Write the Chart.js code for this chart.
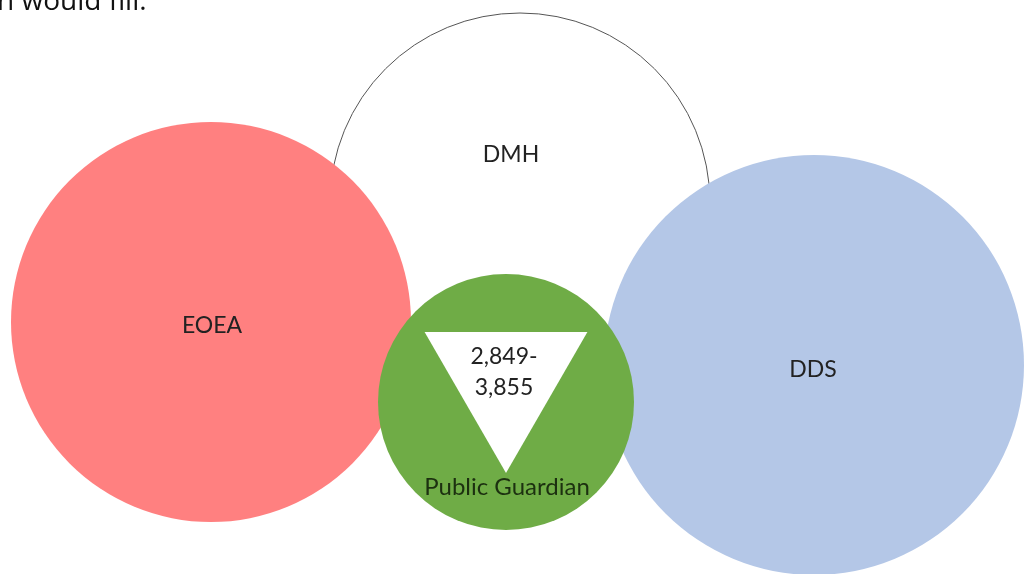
<!DOCTYPE html>
<html>
<head>
<meta charset="utf-8">
<script src="https://cdn.jsdelivr.net/npm/chart.js@4/dist/chart.umd.min.js"></script>
<style>
  html, body { margin: 0; padding: 0; background: #fff; }
  #wrap { width: 1026px; height: 574px; overflow: hidden; }
</style>
</head>
<body>
<div id="wrap"><canvas id="myChart" width="1026" height="574"></canvas></div>
<script>
const ctx = document.getElementById("myChart");

// circles, back to front
const groups = ["DMH", "EOEA", "DDS", "Public Guardian"];
const groupX = [520, 211, 814, 506];
const groupY = [203, 322, 365, 402];
const groupR = [190, 200, 210, 128];
const groupColors = ["#ffffff", "#ff8080", "#b4c7e7", "#6fac46"];

// where the names sit
const labelX = [511, 212, 813, 507];
const labelY = [155, 326, 370, 487];

// the range shown in the triangle
const rangeText = ["2,849-", "3,855"];
const rangeX = 504;
const rangeY = [357, 388];
const triangle = { x: 506, y: 379, r: 94 };

const headText = "n would fill.";

const labelPlugin = {
  id: "vennLabels",
  afterDatasetsDraw(chart) {
    const c = chart.ctx;
    const xs = chart.scales.x;
    const ys = chart.scales.y;
    c.save();
    c.textAlign = "center";
    c.textBaseline = "middle";
    groups.forEach((name, i) => {
      c.font = i == 3 ? "24px Lato" : "23px Lato";
      c.fillStyle = i == 3 ? "#1c3010" : "#222";
      c.fillText(name, xs.getPixelForValue(labelX[i]), ys.getPixelForValue(labelY[i]));
    });
    c.font = "23px Lato";
    c.fillStyle = "#222";
    rangeText.forEach((t, i) => {
      c.fillText(t, xs.getPixelForValue(rangeX), ys.getPixelForValue(rangeY[i]));
    });
    c.textAlign = "left";
    c.textBaseline = "alphabetic";
    c.font = "28px 'Open Sans'";
    c.fillStyle = "#111";
    c.fillText(headText, -3, 10);
    c.restore();
  },
};

new Chart(ctx, {
  type: "bubble",
  data: {
    datasets: [
      {
        label: "range",
        type: "scatter",
        order: 0,
        data: [{ x: triangle.x, y: triangle.y }],
        pointStyle: "triangle",
        rotation: 180,
        pointRadius: triangle.r,
        backgroundColor: "#ffffff",
        borderWidth: 0,
      },
      {
        label: "groups",
        order: 1,
        data: groups.map((g, i) => ({ x: groupX[i], y: groupY[i], r: groupR[i] })),
        backgroundColor: groupColors,
        borderColor: ["#555", "rgba(0,0,0,0)", "rgba(0,0,0,0)", "rgba(0,0,0,0)"],
        borderWidth: [1, 0, 0, 0],
      },
    ],
  },
  options: {
    responsive: false,
    animation: false,
    events: [],
    layout: { padding: 0, autoPadding: false },
    plugins: {
      legend: { display: false },
      tooltip: { enabled: false },
    },
    scales: {
      x: { type: "linear", min: 0, max: 1026, display: false },
      y: { type: "linear", min: 0, max: 574, reverse: true, display: false },
    },
  },
  plugins: [labelPlugin],
});
</script>
</body>
</html>
